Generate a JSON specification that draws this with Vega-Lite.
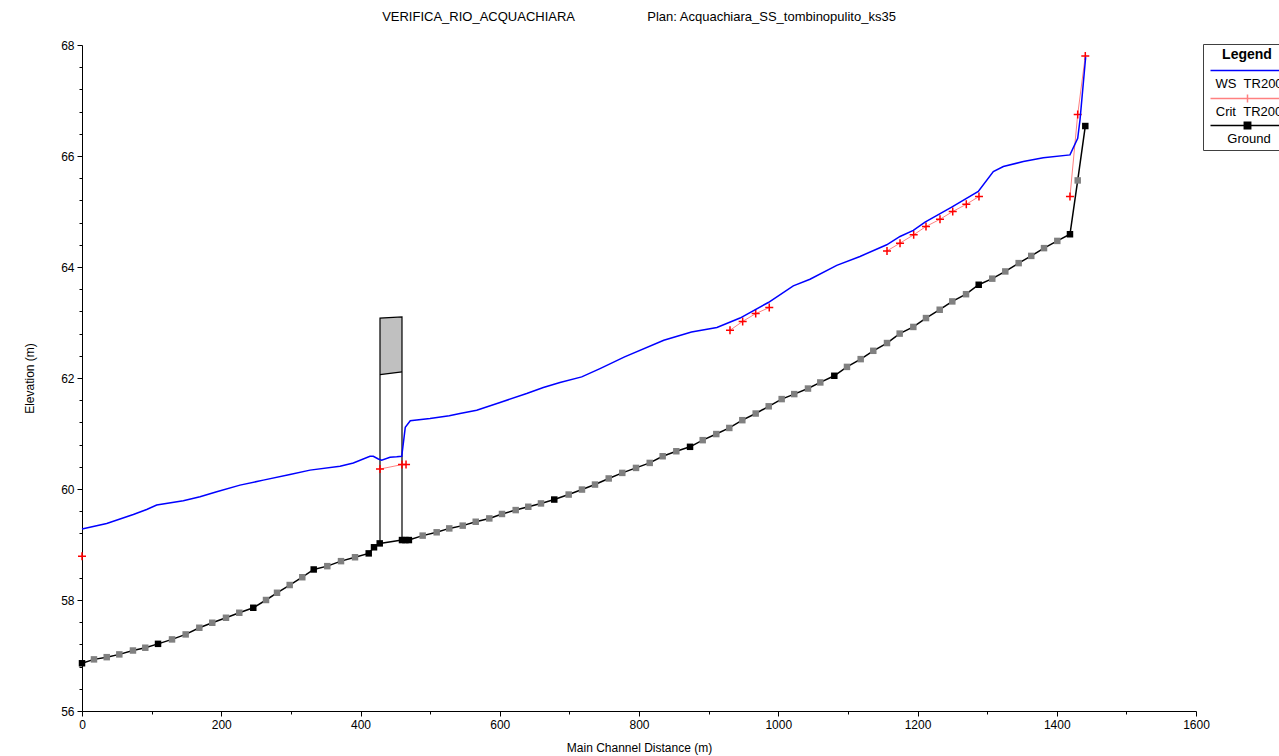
{
  "$schema": "https://vega.github.io/schema/vega-lite/v6.json",
  "width": 1114,
  "height": 666,
  "autosize": {"type": "none"},
  "padding": {"left": 82, "top": 45, "right": 83, "bottom": 45},
  "background": "white",
  "title": {
    "text": "VERIFICA_RIO_ACQUACHIARA\u00a0\u00a0\u00a0\u00a0\u00a0\u00a0\u00a0\u00a0\u00a0\u00a0\u00a0\u00a0\u00a0\u00a0\u00a0\u00a0\u00a0\u00a0\u00a0\u00a0Plan: Acquachiara_SS_tombinopulito_ks35",
    "font": "Liberation Sans",
    "fontSize": 13,
    "fontWeight": "normal",
    "color": "black",
    "anchor": "middle",
    "offset": 15
  },
  "resolve": {"axis": {"x": "independent", "y": "independent"}},
  "config": {
    "view": {"stroke": null},
    "axis": {
      "grid": false,
      "domainColor": "black",
      "domainWidth": 1,
      "tickColor": "black",
      "labelFont": "Liberation Sans",
      "labelFontSize": 12,
      "labelColor": "black",
      "labelOverlap": false,
      "titleFont": "Liberation Sans",
      "titleFontSize": 12,
      "titleFontWeight": "normal",
      "titleColor": "black"
    }
  },
  "datasets": {
    "ground": [
      {"x": 0, "y": 56.86, "interp": false},
      {"x": 17.2, "y": 56.93, "interp": true},
      {"x": 35.5, "y": 56.97, "interp": true},
      {"x": 53.6, "y": 57.02, "interp": true},
      {"x": 73.2, "y": 57.09, "interp": true},
      {"x": 90.9, "y": 57.14, "interp": true},
      {"x": 109.2, "y": 57.21, "interp": false},
      {"x": 129.3, "y": 57.29, "interp": true},
      {"x": 148.9, "y": 57.38, "interp": true},
      {"x": 168.5, "y": 57.5, "interp": true},
      {"x": 187.1, "y": 57.59, "interp": true},
      {"x": 206.8, "y": 57.68, "interp": true},
      {"x": 225.9, "y": 57.77, "interp": true},
      {"x": 246.0, "y": 57.86, "interp": false},
      {"x": 264.3, "y": 58.0, "interp": true},
      {"x": 280.1, "y": 58.13, "interp": true},
      {"x": 298.3, "y": 58.27, "interp": true},
      {"x": 316.4, "y": 58.41, "interp": true},
      {"x": 332.8, "y": 58.55, "interp": false},
      {"x": 352.3, "y": 58.61, "interp": true},
      {"x": 372.0, "y": 58.7, "interp": true},
      {"x": 392.1, "y": 58.77, "interp": true},
      {"x": 411.8, "y": 58.84, "interp": false},
      {"x": 419.4, "y": 58.95, "interp": false},
      {"x": 427.6, "y": 59.02, "interp": false},
      {"x": 459.6, "y": 59.08, "interp": false},
      {"x": 464.5, "y": 59.08, "interp": false},
      {"x": 469.5, "y": 59.08, "interp": false},
      {"x": 489.3, "y": 59.16, "interp": true},
      {"x": 509.4, "y": 59.22, "interp": true},
      {"x": 527.5, "y": 59.29, "interp": true},
      {"x": 546.8, "y": 59.34, "interp": true},
      {"x": 565.5, "y": 59.41, "interp": true},
      {"x": 585.0, "y": 59.47, "interp": true},
      {"x": 603.2, "y": 59.55, "interp": true},
      {"x": 622.9, "y": 59.62, "interp": true},
      {"x": 641.0, "y": 59.68, "interp": true},
      {"x": 659.2, "y": 59.74, "interp": true},
      {"x": 678.3, "y": 59.81, "interp": false},
      {"x": 699.0, "y": 59.9, "interp": true},
      {"x": 718.1, "y": 59.99, "interp": true},
      {"x": 736.8, "y": 60.08, "interp": true},
      {"x": 756.5, "y": 60.19, "interp": true},
      {"x": 776.0, "y": 60.29, "interp": true},
      {"x": 795.7, "y": 60.38, "interp": true},
      {"x": 815.4, "y": 60.47, "interp": true},
      {"x": 834.0, "y": 60.59, "interp": true},
      {"x": 853.6, "y": 60.68, "interp": true},
      {"x": 873.3, "y": 60.76, "interp": false},
      {"x": 891.5, "y": 60.88, "interp": true},
      {"x": 911.0, "y": 60.99, "interp": true},
      {"x": 929.7, "y": 61.1, "interp": true},
      {"x": 948.4, "y": 61.24, "interp": true},
      {"x": 967.6, "y": 61.36, "interp": true},
      {"x": 986.3, "y": 61.49, "interp": true},
      {"x": 1004.9, "y": 61.62, "interp": true},
      {"x": 1023.0, "y": 61.71, "interp": true},
      {"x": 1042.7, "y": 61.81, "interp": true},
      {"x": 1060.4, "y": 61.92, "interp": true},
      {"x": 1080.5, "y": 62.04, "interp": false},
      {"x": 1098.7, "y": 62.2, "interp": true},
      {"x": 1118.4, "y": 62.34, "interp": true},
      {"x": 1136.5, "y": 62.49, "interp": true},
      {"x": 1156.2, "y": 62.63, "interp": true},
      {"x": 1174.4, "y": 62.8, "interp": true},
      {"x": 1194.0, "y": 62.92, "interp": true},
      {"x": 1212.2, "y": 63.08, "interp": true},
      {"x": 1231.9, "y": 63.23, "interp": true},
      {"x": 1250.0, "y": 63.38, "interp": true},
      {"x": 1269.7, "y": 63.51, "interp": true},
      {"x": 1287.9, "y": 63.68, "interp": false},
      {"x": 1307.4, "y": 63.79, "interp": true},
      {"x": 1326.1, "y": 63.92, "interp": true},
      {"x": 1345.3, "y": 64.07, "interp": true},
      {"x": 1363.4, "y": 64.2, "interp": true},
      {"x": 1381.7, "y": 64.34, "interp": true},
      {"x": 1400.8, "y": 64.47, "interp": true},
      {"x": 1419.0, "y": 64.59, "interp": false},
      {"x": 1430.1, "y": 65.56, "interp": true},
      {"x": 1441.0, "y": 66.54, "interp": false}
    ],
    "ws": [
      {"x": 0, "y": 59.28},
      {"x": 35.5, "y": 59.38},
      {"x": 73.7, "y": 59.54},
      {"x": 92.9, "y": 59.63},
      {"x": 107.3, "y": 59.71},
      {"x": 145.5, "y": 59.79},
      {"x": 169.5, "y": 59.86},
      {"x": 193.5, "y": 59.95},
      {"x": 226.9, "y": 60.07},
      {"x": 260.4, "y": 60.16},
      {"x": 298.7, "y": 60.26},
      {"x": 327.5, "y": 60.34},
      {"x": 370.6, "y": 60.41},
      {"x": 389.7, "y": 60.47},
      {"x": 413.6, "y": 60.59},
      {"x": 418.4, "y": 60.59},
      {"x": 425.6, "y": 60.54},
      {"x": 430.4, "y": 60.52},
      {"x": 442.4, "y": 60.57},
      {"x": 452.0, "y": 60.58},
      {"x": 459.2, "y": 60.59},
      {"x": 461.0, "y": 60.77},
      {"x": 464.3, "y": 61.11},
      {"x": 471.5, "y": 61.23},
      {"x": 499.8, "y": 61.27},
      {"x": 527.5, "y": 61.32},
      {"x": 542.9, "y": 61.36},
      {"x": 566.9, "y": 61.42},
      {"x": 600.4, "y": 61.56},
      {"x": 638.7, "y": 61.72},
      {"x": 662.6, "y": 61.83},
      {"x": 686.5, "y": 61.92},
      {"x": 717.7, "y": 62.02},
      {"x": 744.0, "y": 62.17},
      {"x": 779.3, "y": 62.38},
      {"x": 835.6, "y": 62.68},
      {"x": 875.4, "y": 62.83},
      {"x": 911.9, "y": 62.91},
      {"x": 945.1, "y": 63.08},
      {"x": 985.7, "y": 63.36},
      {"x": 1021.6, "y": 63.66},
      {"x": 1045.6, "y": 63.78},
      {"x": 1084.0, "y": 64.03},
      {"x": 1117.4, "y": 64.19},
      {"x": 1155.8, "y": 64.4},
      {"x": 1174.9, "y": 64.55},
      {"x": 1194.0, "y": 64.66},
      {"x": 1210.8, "y": 64.81},
      {"x": 1249.1, "y": 65.08},
      {"x": 1287.3, "y": 65.36},
      {"x": 1308.9, "y": 65.72},
      {"x": 1323.3, "y": 65.81},
      {"x": 1352.0, "y": 65.9},
      {"x": 1380.7, "y": 65.97},
      {"x": 1419.0, "y": 66.02},
      {"x": 1430.1, "y": 66.32},
      {"x": 1433.4, "y": 66.65},
      {"x": 1441.5, "y": 67.78}
    ],
    "crit": [
      {"x": 0, "y": 58.79, "seg": "a"},
      {"x": 428.0, "y": 60.36, "seg": "b"},
      {"x": 459.6, "y": 60.44, "seg": "b"},
      {"x": 465.4, "y": 60.44, "seg": "b"},
      {"x": 930.7, "y": 62.86, "seg": "c"},
      {"x": 948.9, "y": 63.02, "seg": "c"},
      {"x": 967.6, "y": 63.16, "seg": "c"},
      {"x": 987.1, "y": 63.27, "seg": "c"},
      {"x": 1156.2, "y": 64.29, "seg": "d"},
      {"x": 1174.9, "y": 64.43, "seg": "d"},
      {"x": 1194.5, "y": 64.58, "seg": "d"},
      {"x": 1212.2, "y": 64.73, "seg": "d"},
      {"x": 1232.3, "y": 64.86, "seg": "d"},
      {"x": 1250.6, "y": 65.0, "seg": "d"},
      {"x": 1270.1, "y": 65.13, "seg": "d"},
      {"x": 1288.3, "y": 65.27, "seg": "d"},
      {"x": 1419.0, "y": 65.27, "seg": "e"},
      {"x": 1430.1, "y": 66.75, "seg": "e"},
      {"x": 1441.0, "y": 67.8, "seg": "e"}
    ],
    "deck": [
      {"x": 428.0, "hi": 63.08, "lo": 62.06},
      {"x": 459.6, "hi": 63.1, "lo": 62.11}
    ],
    "culvert": [
      {"x": 428.0, "y": 59.02, "o": 1},
      {"x": 428.0, "y": 63.08, "o": 2},
      {"x": 459.6, "y": 63.1, "o": 3},
      {"x": 459.6, "y": 59.08, "o": 4}
    ]
  },
  "layer": [
    {
      "data": {"name": "deck"},
      "mark": {"type": "area", "color": "#c0c0c0"},
      "encoding": {
        "x": {
          "field": "x", "type": "quantitative",
          "axis": {
            "orient": "bottom",
            "values": [100, 300, 500, 700, 900, 1100, 1300, 1500],
            "labels": false,
            "domain": false,
            "tickSize": 3,
            "title": null
          }
        },
        "y": {
          "field": "hi", "type": "quantitative",
          "axis": {
            "orient": "left",
            "values": [56.4, 56.8, 57.2, 57.6, 58.4, 58.8, 59.2, 59.6, 60.4, 60.8, 61.2, 61.6, 62.4, 62.8, 63.2, 63.6, 64.4, 64.8, 65.2, 65.6, 66.4, 66.8, 67.2, 67.6],
            "labels": false,
            "domain": false,
            "tickSize": 3,
            "title": null
          }
        },
        "y2": {"field": "lo"}
      }
    },
    {
      "data": {"name": "deck"},
      "mark": {"type": "line", "color": "black", "strokeWidth": 1.2},
      "encoding": {
        "x": {"field": "x", "type": "quantitative", "axis": null},
        "y": {"field": "lo", "type": "quantitative", "axis": null}
      }
    },
    {
      "data": {"name": "culvert"},
      "mark": {"type": "line", "color": "black", "strokeWidth": 1.2},
      "encoding": {
        "x": {"field": "x", "type": "quantitative", "axis": null},
        "y": {"field": "y", "type": "quantitative", "axis": null},
        "order": {"field": "o", "type": "quantitative"}
      }
    },
    {
      "data": {"name": "ground"},
      "mark": {"type": "line", "strokeWidth": 1.5},
      "encoding": {
        "x": {
          "field": "x", "type": "quantitative",
          "scale": {"domain": [0, 1600], "nice": false, "zero": false},
          "axis": {
            "orient": "bottom",
            "title": "Main Channel Distance (m)",
            "values": [0, 200, 400, 600, 800, 1000, 1200, 1400, 1600],
            "format": "d",
            "tickSize": 5,
            "labelPadding": 3,
            "titlePadding": 12,
            "labelFlush": false
          }
        },
        "y": {
          "field": "y", "type": "quantitative",
          "scale": {"domain": [56, 68], "nice": false, "zero": false},
          "axis": {
            "orient": "left",
            "title": "Elevation (m)",
            "values": [56, 58, 60, 62, 64, 66, 68],
            "format": "d",
            "tickSize": 5,
            "labelPadding": 3,
            "titlePadding": 24,
            "labelFlush": false
          }
        },
        "color": {
          "datum": "Ground",
          "type": "nominal",
          "scale": {
            "domain": ["WS\u00a0\u00a0TR200", "Crit\u00a0\u00a0TR200", "Ground"],
            "range": ["#0000ff", "#ff8080", "#000000"]
          },
          "legend": {
            "orient": "none",
            "legendX": 1121,
            "legendY": -1,
            "title": "Legend",
            "titleFont": "Liberation Sans",
            "titleFontSize": 14,
            "titleFontWeight": "bold",
            "titleColor": "black",
            "titleAnchor": "middle",
            "titlePadding": 2,
            "strokeColor": "#404040",
            "fillColor": "white",
            "padding": 4,
            "symbolSize": 64,
            "symbolStrokeWidth": 1.5,
            "symbolOffset": 34,
            "labelFont": "Liberation Sans",
            "labelFontSize": 13,
            "labelColor": "black",
            "labelAlign": "center",
            "labelOffset": -5,
            "rowPadding": 0,
            "encode": {
              "symbols": {
                "update": {
                  "shape": {"signal": "datum.value == 'Ground' ? 'M-9.25,0H9.25M-0.8,-0.8H0.8V0.8H-0.8Z' : (indexof(datum.value, 'Crit') == 0 ? 'M-9.25,0H9.25M0,-1V1M-1,0H1' : 'M-9.25,0H9.25')"},
                  "fill": {"signal": "datum.value == 'Ground' ? 'black' : 'transparent'"}
                }
              },
              "labels": {"update": {"dy": {"value": 13}}}
            }
          }
        }
      }
    },
    {
      "data": {"name": "ground"},
      "mark": {"type": "point", "shape": "square", "size": 42, "filled": true, "opacity": 1},
      "encoding": {
        "x": {"field": "x", "type": "quantitative", "axis": null},
        "y": {"field": "y", "type": "quantitative", "axis": null},
        "fill": {"condition": {"test": "datum.interp", "value": "#808080"}, "value": "black"}
      }
    },
    {
      "data": {"name": "crit"},
      "mark": {"type": "line", "strokeWidth": 1},
      "encoding": {
        "x": {"field": "x", "type": "quantitative", "axis": null},
        "y": {"field": "y", "type": "quantitative", "axis": null},
        "detail": {"field": "seg"},
        "color": {"datum": "Crit\u00a0\u00a0TR200", "type": "nominal"}
      }
    },
    {
      "data": {"name": "crit"},
      "mark": {"type": "point", "shape": "M-1,0H1M0,-1V1", "size": 64, "filled": false, "stroke": "#ff0000", "strokeWidth": 1.5, "opacity": 1},
      "encoding": {
        "x": {"field": "x", "type": "quantitative", "axis": null},
        "y": {"field": "y", "type": "quantitative", "axis": null}
      }
    },
    {
      "data": {"name": "ws"},
      "mark": {"type": "line", "strokeWidth": 1.5},
      "encoding": {
        "x": {"field": "x", "type": "quantitative", "axis": null},
        "y": {"field": "y", "type": "quantitative", "axis": null},
        "color": {"datum": "WS\u00a0\u00a0TR200", "type": "nominal"}
      }
    }
  ]
}
